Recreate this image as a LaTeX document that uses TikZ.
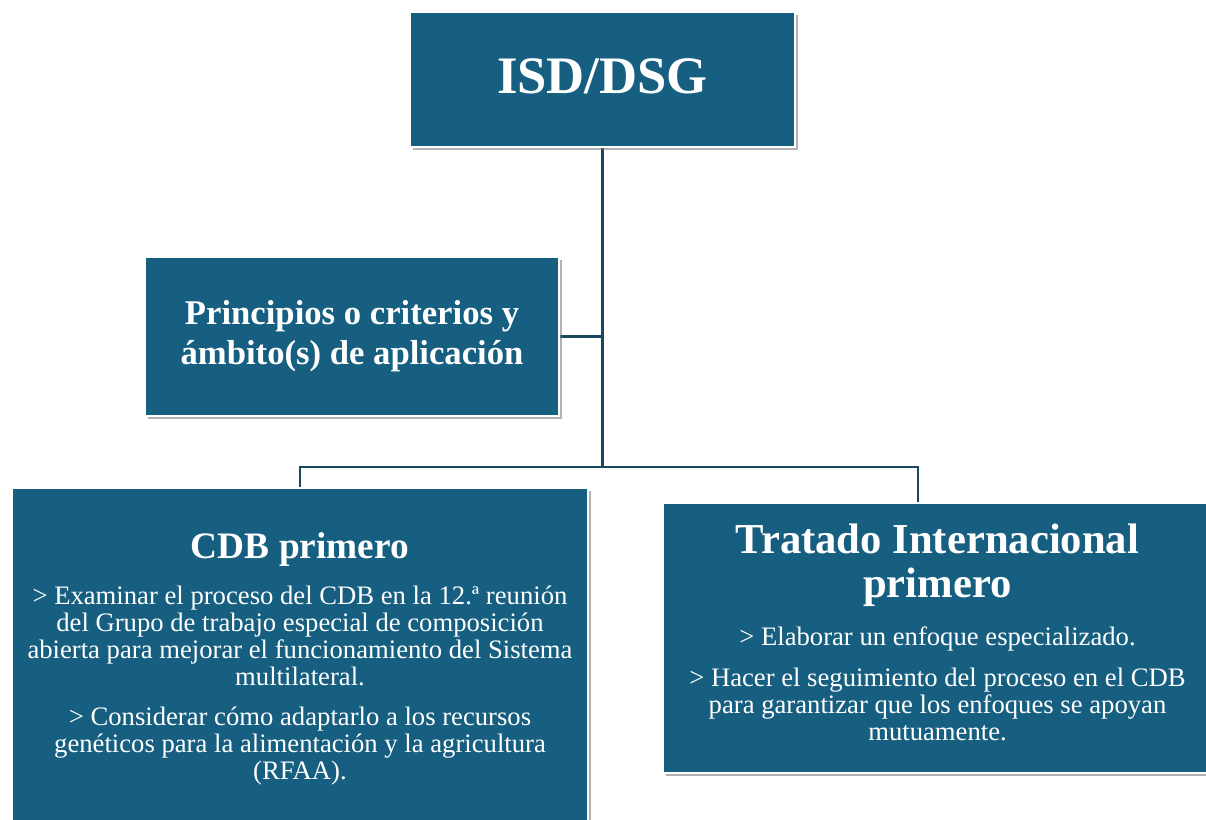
\documentclass[tikz,border=0pt]{standalone}
\usepackage{fontspec}
\setmainfont{LiberationSerif}[Extension=.ttf, UprightFont=*-Regular, BoldFont=*-Bold,
  ItalicFont=*-Italic, BoldItalicFont=*-BoldItalic]
\usepackage{tikz}
\pgfdeclarelayer{bg}
\pgfsetlayers{bg,main}
\usetikzlibrary{positioning,shadows,calc}

\definecolor{boxblue}{RGB}{23,95,128}
\definecolor{linkblue}{RGB}{24,72,96}

\tikzset{
  box/.style={rectangle, fill=boxblue, draw=white, line width=1.2pt, text=white,
    align=center, inner sep=0pt,
    drop shadow={shadow xshift=2.5pt, shadow yshift=-2.5pt, fill=black!55, opacity=.55}},
  link/.style={draw=linkblue, line width=2pt}
}
\newcommand{\bodyfont}{\fontsize{20}{20.3}\selectfont\spaceskip=.25em\relax}
\newcommand{\titlefont}[2]{\fontsize{#1}{#2}\selectfont\bfseries\spaceskip=.25em\relax}

\begin{document}
\begin{tikzpicture}[x=0.75pt, y=-0.75pt]
  \useasboundingbox (0,0) rectangle (1206,819);
  \node[box, minimum width=288.75pt, minimum height=101.25pt,
    font=\titlefont{39.5}{44}] (isd) at (602.5,79.5) {\raisebox{4.5pt}{ISD/DSG}};
  \node[box, minimum width=310.5pt, minimum height=119.25pt,
    font=\titlefont{26}{30}] (prin) at (352,336.5)
    {Principios o criterios y\\ ámbito(s) de aplicación};
  \node[box, text width=432pt, minimum height=256.5pt] (cdb) at (300,659)
    {{\titlefont{28}{32}CDB primero\par}\vspace{14pt}
     \bodyfont > Examinar el proceso del CDB en la 12.ª reunión\\
     del Grupo de trabajo especial de composición\\
     abierta para mejorar el funcionamiento del Sistema\\
     multilateral.\par\vspace{10pt}
     > Considerar cómo adaptarlo a los recursos\\
     genéticos para la alimentación y la agricultura\\
     (RFAA).\par};
  \node[box, text width=411.75pt, minimum height=202.5pt] (trat) at (937.5,638)
    {{\titlefont{32}{32.5}Tratado Internacional\\ primero\par}\vspace{14.5pt}
     \bodyfont > Elaborar un enfoque especializado.\par\vspace{10pt}
     > Hacer el seguimiento del proceso en el CDB\\
     para garantizar que los enfoques se apoyan\\
     mutuamente.\par\vspace{8.5pt}};
  % connectors
  \coordinate (junc) at ($(isd.south)!1!(isd.south |- 0,467)$);
  \coordinate (tdrop) at (918,503);
  \begin{pgfonlayer}{bg}
    \draw[link] (isd.south) -- (junc);
    \draw[link] (prin.east) -- (prin.east -| isd.south);
    \draw[link] (cdb.north) |- (junc) -| (tdrop);
  \end{pgfonlayer}
\end{tikzpicture}
\end{document}
